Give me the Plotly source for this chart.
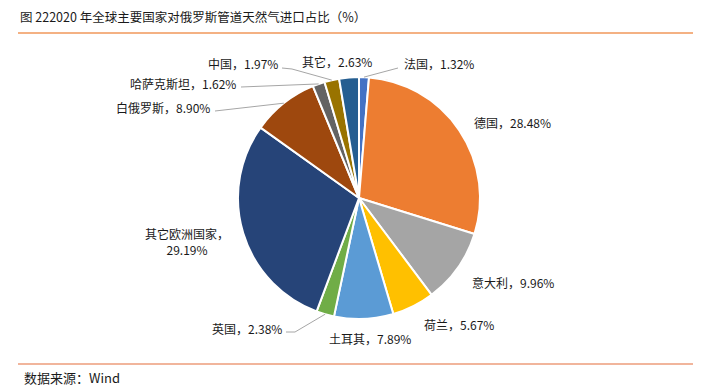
import math
import plotly.graph_objects as go

# ---- data ----
countries = ["法国", "德国", "意大利", "荷兰", "土耳其", "英国",
             "其它欧洲国家", "白俄罗斯", "哈萨克斯坦", "中国", "其它"]
shares = [1.32, 28.48, 9.96, 5.67, 7.89, 2.38, 29.19, 8.90, 1.62, 1.97, 2.63]
colors = ["#4472C4", "#ED7D31", "#A5A5A5", "#FFC000", "#5B9BD5", "#70AD47",
          "#264478", "#9E480E", "#636363", "#997300", "#255E91"]

title_text = "图 222020 年全球主要国家对俄罗斯管道天然气进口占比（%）"
source_text = "数据来源：Wind"

W, H = 706, 388
CX, CY, R = 359, 198, 121
FONT = "Noto Sans CJK SC"

def px(x):
    return x / W

def py(y):
    return 1 - y / H

# label layout (window-pixel anchor, xanchor, two-line?, leader elbow)
label_layout = {
    "法国": dict(x=402, y=64, xa="left", leader=[(398, 68)]),
    "德国": dict(x=472, y=122, xa="left"),
    "意大利": dict(x=470, y=282, xa="left"),
    "荷兰": dict(x=422, y=324, xa="left"),
    "土耳其": dict(x=327, y=338, xa="left"),
    "英国": dict(x=284, y=328, xa="right", leader=[(286, 332), (295, 332)]),
    "其它欧洲国家": dict(x=187, y=241, xa="center", two=True),
    "白俄罗斯": dict(x=212, y=107, xa="right", leader=[(215, 111)]),
    "哈萨克斯坦": dict(x=238, y=83, xa="right", leader=[(241, 87)]),
    "中国": dict(x=280, y=64, xa="right", leader=[(282, 68), (292, 69)]),
    "其它": dict(x=337, y=62, xa="center"),
}

fig = go.Figure(go.Pie(
    labels=countries,
    values=shares,
    sort=False,
    direction="clockwise",
    rotation=0,
    marker=dict(colors=colors, line=dict(color="white", width=2)),
    textinfo="none",
    hoverinfo="label+percent",
    showlegend=False,
    domain=dict(x=[px(CX - R), px(CX + R)], y=[py(CY + R), py(CY - R)]),
))

annotations = []
shapes = []
total = sum(shares)
cum = 0.0
for name, v in zip(countries, shares):
    mid = (cum + v / 2) / total
    cum += v
    ang = 2 * math.pi * mid
    ex = CX + R * math.sin(ang)
    ey = CY - R * math.cos(ang)
    lay = label_layout[name]
    if lay.get("two"):
        txt = f"{name}，<br>{v:.2f}%"
    else:
        txt = f"{name}，{v:.2f}%"
    annotations.append(dict(
        x=px(lay["x"]), y=py(lay["y"]), xref="paper", yref="paper",
        text=txt, showarrow=False, xanchor=lay["xa"], yanchor="middle",
        font=dict(family=FONT, size=12, color="#1a1a1a"),
    ))
    if "leader" in lay:
        pts = lay["leader"] + [(ex, ey)]
        path = "M " + " L ".join(f"{px(a)},{py(b)}" for a, b in pts)
        shapes.append(dict(type="path", xref="paper", yref="paper", path=path,
                           line=dict(color="#A6A6A6", width=1)))

# title & source
annotations.append(dict(x=px(18), y=py(17), xref="paper", yref="paper",
                        text=title_text, showarrow=False, xanchor="left",
                        yanchor="middle",
                        font=dict(family=FONT, size=12.5, color="#1a1a1a")))
annotations.append(dict(x=px(22), y=py(377), xref="paper", yref="paper",
                        text=source_text, showarrow=False, xanchor="left",
                        yanchor="middle",
                        font=dict(family=FONT, size=13, color="#1a1a1a")))
shapes.append(dict(type="line", xref="paper", yref="paper",
                   x0=px(18), x1=px(693), y0=py(33), y1=py(33),
                   line=dict(color="#F4B183", width=2)))
shapes.append(dict(type="line", xref="paper", yref="paper",
                   x0=px(18), x1=px(693), y0=py(364), y1=py(364),
                   line=dict(color="#E46C3A", width=1.2)))

fig.update_layout(
    width=W, height=H,
    margin=dict(l=0, r=0, t=0, b=0),
    paper_bgcolor="white", plot_bgcolor="white",
    annotations=annotations, shapes=shapes,
)

# remove the default 8px body margin so the figure fills the window exactly
fig.write_html("out.html",
               config={"displayModeBar": False},
               post_script="document.body.style.margin='0';"
                           "document.body.style.overflow='hidden';")
